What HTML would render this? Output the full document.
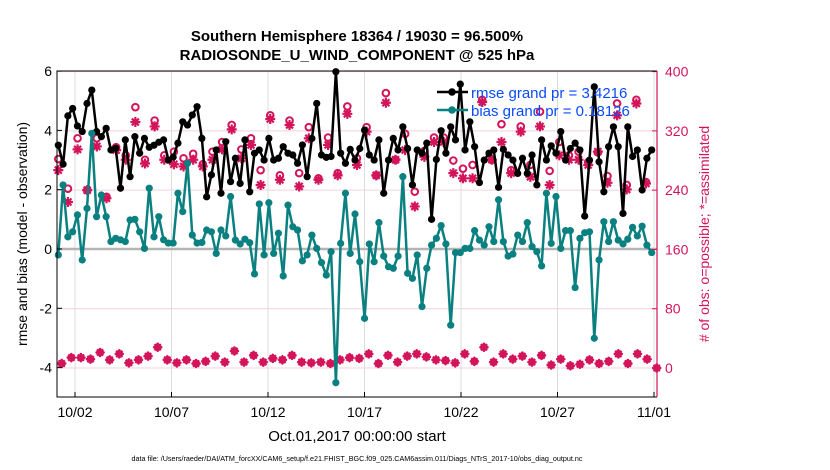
<!DOCTYPE html>
<html><head><meta charset="utf-8"><style>
body{margin:0;background:#fff;}
svg{display:block;font-family:"Liberation Sans",Arial,sans-serif;}
</style></head><body>
<svg id="chart" width="830" height="470" viewBox="0 0 830 470">
<rect x="0" y="0" width="830" height="470" fill="#fff"/>
<g id="grid"></g>
<g id="series"></g>
<g id="axes"></g>
<text x="357" y="41" text-anchor="middle" font-size="15" font-weight="bold">Southern Hemisphere 18364 / 19030 = 96.500%</text>
<text x="357" y="60" text-anchor="middle" font-size="15" font-weight="bold">RADIOSONDE_U_WIND_COMPONENT @ 525 hPa</text>
<text x="357" y="441" text-anchor="middle" font-size="15">Oct.01,2017 00:00:00 start</text>
<text transform="translate(27,234) rotate(-90)" text-anchor="middle" font-size="14">rmse and bias (model - observation)</text>
<text transform="translate(709,234) rotate(-90)" text-anchor="middle" font-size="14" fill="#d4145a"># of obs: o=possible; *=assimilated</text>
<text x="357" y="461" text-anchor="middle" font-size="7.2">data file: /Users/raeder/DAI/ATM_forcXX/CAM6_setup/f.e21.FHIST_BGC.f09_025.CAM6assim.011/Diags_NTrS_2017-10/obs_diag_output.nc</text>
<g>
<line x1="437" y1="92" x2="468" y2="92" stroke="#000" stroke-width="2.5"/>
<circle cx="452" cy="92" r="3.8" fill="#000"/>
<text x="471" y="98" font-size="15" fill="#0a4bff">rmse grand pr = 3.4216</text>
<line x1="437" y1="110" x2="468" y2="110" stroke="#0b8080" stroke-width="2.5"/>
<circle cx="452" cy="110" r="3.8" fill="#0b8080"/>
<text x="471" y="116" font-size="15" fill="#0a4bff">bias grand pr = 0.18126</text>
</g>
</svg>
<script>
const rmse=[3.5,2.86,4.49,4.74,4.15,3.96,4.91,5.36,3.96,3.79,4.07,3.34,3.4,2.05,3.68,2.44,3.79,3.23,3.73,3.43,3.5,3.6,3.68,3.0,3.1,3.57,4.29,4.18,4.52,4.8,3.73,1.76,
2.5,3.34,1.88,3.62,2.27,3.06,2.21,3.68,1.93,3.23,3.34,3.0,3.73,3.0,3.06,3.45,3.23,3.17,2.89,3.51,2.44,3.73,4.91,3.17,3.09,3.12,5.98,3.23,2.89,3.36,3.0,
3.39,4.01,3.17,3.0,3.68,1.88,3.0,3.73,3.34,4.12,3.39,2.16,3.34,3.23,3.57,1.0,3.02,3.99,3.23,4.12,3.68,5.56,3.34,4.29,3.45,2.24,3.0,3.23,3.34,2.08,3.36,
3.17,3.0,2.55,3.06,2.55,3.17,2.16,3.68,3.0,3.48,3.23,3.96,3.0,3.39,3.57,3.34,1.11,3.0,5.47,2.94,1.93,3.45,4.12,3.45,1.2,4.12,3.12,3.34,1.99,3.06,3.34];
const bias=[-0.2,2.16,0.41,0.58,1.15,-0.37,1.37,3.9,1.09,1.82,1.09,0.25,0.36,0.31,0.25,0.98,1.0,0.58,0.02,2.05,0.41,1.09,0.31,0.2,0.2,1.88,1.26,2.89,0.47,0.2,0.22,0.64,
0.58,-0.15,0.64,0.44,1.77,0.30,0.17,0.33,0.21,-0.84,1.52,-0.2,1.56,-0.15,0.53,-0.91,1.48,0.75,0.64,-0.4,-0.2,0.47,0.02,-0.46,-0.88,-0.09,-4.51,0.19,1.88,-0.15,1.18,
-0.43,-2.34,0.17,-0.43,0.89,-0.24,-0.6,-0.65,-0.24,2.44,-0.82,-0.99,-0.2,-1.94,-0.65,0.13,0.36,0.79,0.17,-2.57,-0.12,-0.12,0.02,0.02,0.62,0.3,0.13,0.75,0.25,1.66,0.25,
-0.24,-0.17,0.47,0.25,0.89,0.08,-0.09,-0.57,1.88,0.19,1.77,0.02,0.62,0.62,-1.3,0.36,0.55,0.58,-3.01,-0.37,0.92,0.25,0.92,0.3,0.17,0.33,0.73,0.44,0.77,0.13,-0.12];
const nAssim=[267,224,295,240,299,229,294,281,332,276,326,281,275,272,281,272,
281,295,322,283,301,247,336,254,328,245,310,254,301,260,343,
274,319,260,358,281,294,218,285,305,305,263,256,256,359,281,305,
263,319,258,326,247,287,281,281,274,292,250,341,241,357,249];
const nPoss=[282,242,310,240,310,231,298,287,352,281,334,287,292,283,289,275,
292,305,328,295,310,267,341,260,334,263,325,256,311,263,353,
283,325,260,371,281,316,238,293,311,311,280,269,274,362,281,329,
267,326,274,346,266,305,287,292,278,291,259,357,247,362,251];
const nOther=[6,14,14,12,21,11,19,7,11,16,28,11,7,11,6,9,
16,8,23,8,17,8,13,11,17,8,7,8,6,11,14,
13,19,6,17,8,16,19,15,11,10,7,19,9,28,8,
19,12,16,8,17,4,12,3,5,11,6,9,19,6,19,12,0];
const leftTicks=[-4,-2,0,2,4,6];
const rightTicks=[0,80,160,240,320,400];
const dateLabels=["10/02","10/07","10/12","10/17","10/22","10/27","11/01"];
const dateDays=[1,6,11,16,21,26,31];

const NS="http://www.w3.org/2000/svg";
const L=57,R=657,T=71,B=397;
const yL=v=>249-v*29.65;
const yR=c=>368-c*0.741;
const xDay=d=>55.7+d*19.3;
const xIdx=(i,n,a,b)=>a+i*(b-a)/(n-1);
const PINK="#d4145a",TEAL="#0b8080";
function mk(tag,attrs,parent){const e=document.createElementNS(NS,tag);for(const k in attrs)e.setAttribute(k,attrs[k]);parent.appendChild(e);return e;}
const grid=document.getElementById('grid'),ser=document.getElementById('series'),ax=document.getElementById('axes');

dateDays.forEach((d,i)=>{
 const g=mk('line',{x1:xDay(d),x2:xDay(d),y1:T,y2:B,stroke:'#dcdcdc','stroke-width':1},grid);
 
 
 const t=mk('text',{x:xDay(d),y:417,'text-anchor':'middle','font-size':14},ax);
 t.textContent=dateLabels[i];
 
 
 const tk=mk('line',{x1:xDay(d),x2:xDay(d),y1:B,y2:B-5,stroke:'#000'},ax);
 
 
});
rightTicks.forEach(c=>{
 const g=mk('line',{x1:L,x2:R,y1:yR(c),y2:yR(c),stroke:'#f1d3de','stroke-width':1},grid);
 
 
 const t=mk('text',{x:665,y:yR(c)+5,'font-size':14,fill:PINK},ax);
 t.textContent=c;
 
 
 const tk=mk('line',{x1:R,x2:R-5,y1:yR(c),y2:yR(c),stroke:PINK},ax);
 
 
});
leftTicks.forEach(v=>{
 const t=mk('text',{x:52,y:yL(v)+5,'text-anchor':'end','font-size':14},ax);
 t.textContent=v;
 
 
 const tk=mk('line',{x1:L,x2:L+5,y1:yL(v),y2:yL(v),stroke:'#000'},ax);
 
 
});
const zl=mk('line',{x1:L,x2:R,y1:yL(0),y2:yL(0),stroke:'#b4b4b4','stroke-width':2.5},grid);



function line(vals,color,name){
 const n=vals.length;
 const pts=vals.map((v,i)=>xIdx(i,n,58.3,651.7).toFixed(1)+','+yL(v).toFixed(1)).join(' ');
 const p=mk('polyline',{points:pts,fill:'none',stroke:color,'stroke-width':2.5,'stroke-linejoin':'round'},ser);
 
 
 vals.forEach((v,i)=>{
  const c=mk('circle',{cx:xIdx(i,n,58.3,651.7),cy:yL(v),r:3.6,fill:color},ser);
  
  
 });
}
function star(x,y,s,parent){
 const d=`M${x-s},${y}H${x+s}M${x},${y-s}V${y+s}M${x-s*.7},${y-s*.7}L${x+s*.7},${y+s*.7}M${x-s*.7},${y+s*.7}L${x+s*.7},${y-s*.7}`;
 return mk('path',{d:d,stroke:PINK,'stroke-width':2.2,fill:'none'},parent);
}
nPoss.forEach((c,i)=>{
 const x=xIdx(i,nPoss.length,58.3,646);
 const o=mk('circle',{cx:x,cy:yR(c),r:3.3,fill:'none',stroke:PINK,'stroke-width':2},ser);
 
 
});
nAssim.forEach((c,i)=>{
 const x=xIdx(i,nAssim.length,58.3,646);
 const s=star(x,yR(c),5,ser);
 
 
});
nOther.forEach((c,i)=>{
 const x=xIdx(i,nOther.length,61.7,656.7),y=yR(c);
 const d=mk('path',{d:`M${x},${y-5}L${x+5},${y}L${x},${y+5}L${x-5},${y}Z`,fill:PINK},ser);
 
 
 const s=star(x,y,4.5,ser);
 
 
});
line(rmse,'#000','rmse');
line(bias,TEAL,'bias');

const fr=mk('path',{d:`M${R},${T}H${L}V${B}H${R}`,fill:'none',stroke:'#000','stroke-width':1},ax);


const ra=mk('line',{x1:R,x2:R,y1:T,y2:B,stroke:PINK,'stroke-width':1.2},ax);


</script>
</body></html>
